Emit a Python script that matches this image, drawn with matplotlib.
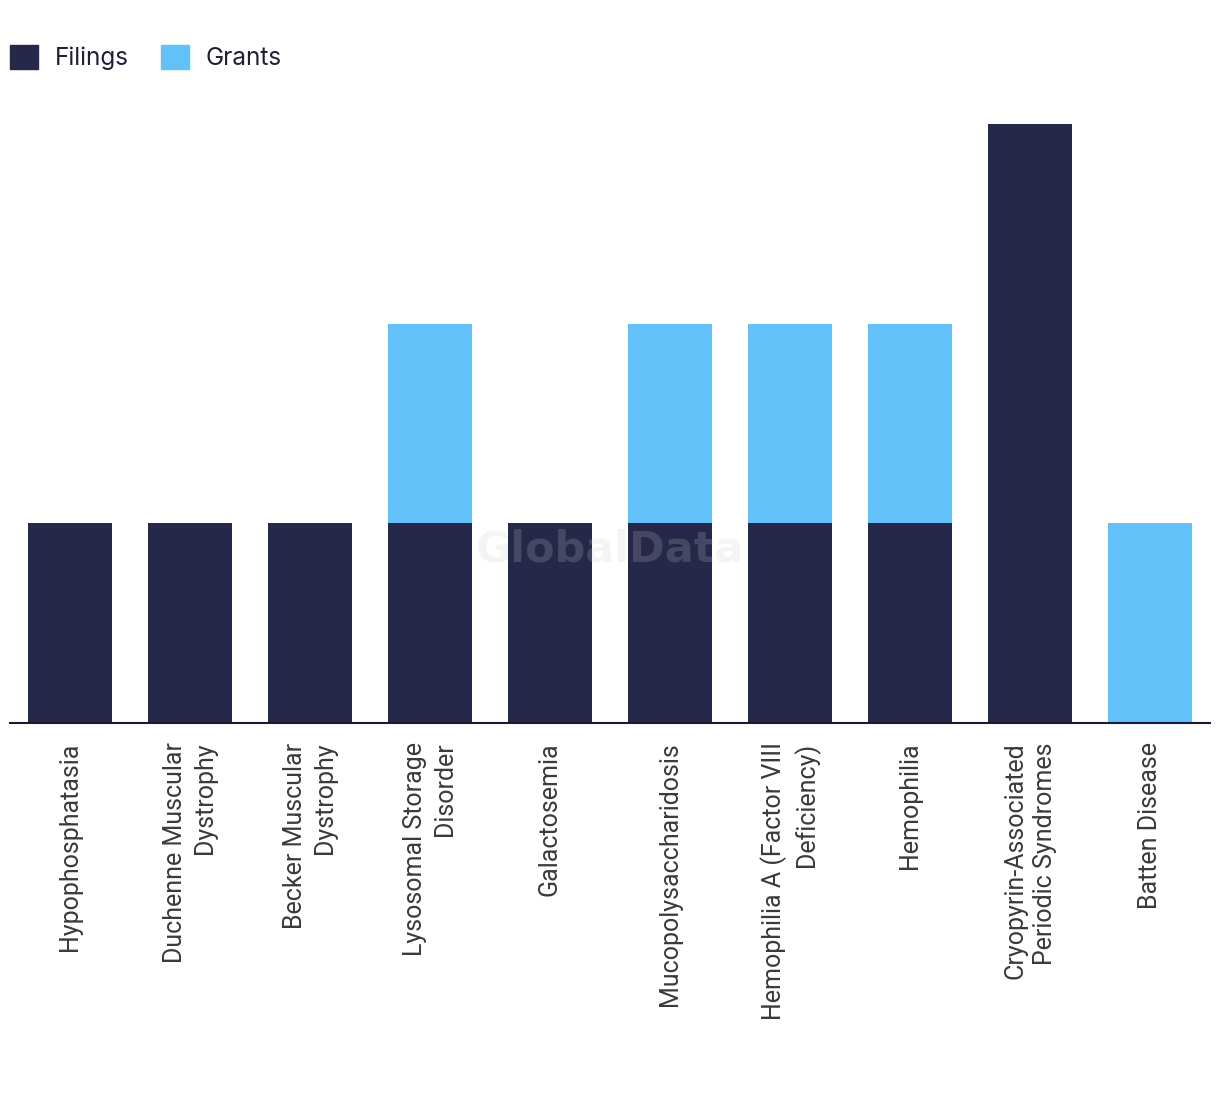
import numpy as np
import matplotlib.pyplot as plt
from matplotlib.patches import Patch

categories = ["Hypophosphatasia", "Duchenne Muscular\nDystrophy", "Becker Muscular\nDystrophy",
              "Lysosomal Storage\nDisorder", "Galactosemia", "Mucopolysaccharidosis",
              "Hemophilia A (Factor VIII\nDeficiency)", "Hemophilia",
              "Cryopyrin-Associated\nPeriodic Syndromes", "Batten Disease"]
filings = [1, 1, 1, 1, 1, 1, 1, 1, 3, 0]
grants = [0, 0, 0, 1, 0, 1, 1, 1, 0, 1]

navy = "#262849"
blue = "#62c1f8"

fig = plt.figure(figsize=(12.2, 10.94), dpi=100)
W, H = 1220, 1094
ax = fig.add_axes([10 / W, 1 - 723 / H, 1200 / W, (723 - 124) / H])
x = np.arange(len(categories))
ax.bar(x, filings, width=0.7, color=navy, zorder=2)
ax.bar(x, grants, width=0.7, bottom=filings, color=blue, zorder=2)
ax.set_xlim(-0.5, len(categories) - 0.5)
ax.set_ylim(0, 3)
ax.set_yticks([])
for s in ["top", "right", "left"]:
    ax.spines[s].set_visible(False)
ax.spines["bottom"].set_color("#1a1a2e")
ax.spines["bottom"].set_linewidth(1.5)
ax.set_xticks(x)
ax.set_xticklabels(categories, rotation=90, ha="center", va="top", multialignment="right",
                   fontsize=18, family="Roboto", color="#3a3a3a", linespacing=1.28)
ax.tick_params(axis="x", length=0, pad=14)

ax.text(0.5, 0.29, "GlobalData", transform=ax.transAxes, ha="center", va="center",
        fontsize=31, fontweight="bold", family="DejaVu Sans", color="#c8c8d0", alpha=0.2, zorder=5)

handles = [Patch(color=navy, label="Filings"), Patch(color=blue, label="Grants")]
fig.legend(handles=handles, loc="upper left", bbox_to_anchor=(10 / W, 1 - 45 / H), ncol=2,
           frameon=False, borderaxespad=0, borderpad=0,
           prop={"family": "Inter", "size": 17.5}, handlelength=1.15, handleheight=1.15,
           columnspacing=1.3, handletextpad=0.7, labelcolor="#1f2037")

fig.savefig("out.png", dpi=100)
